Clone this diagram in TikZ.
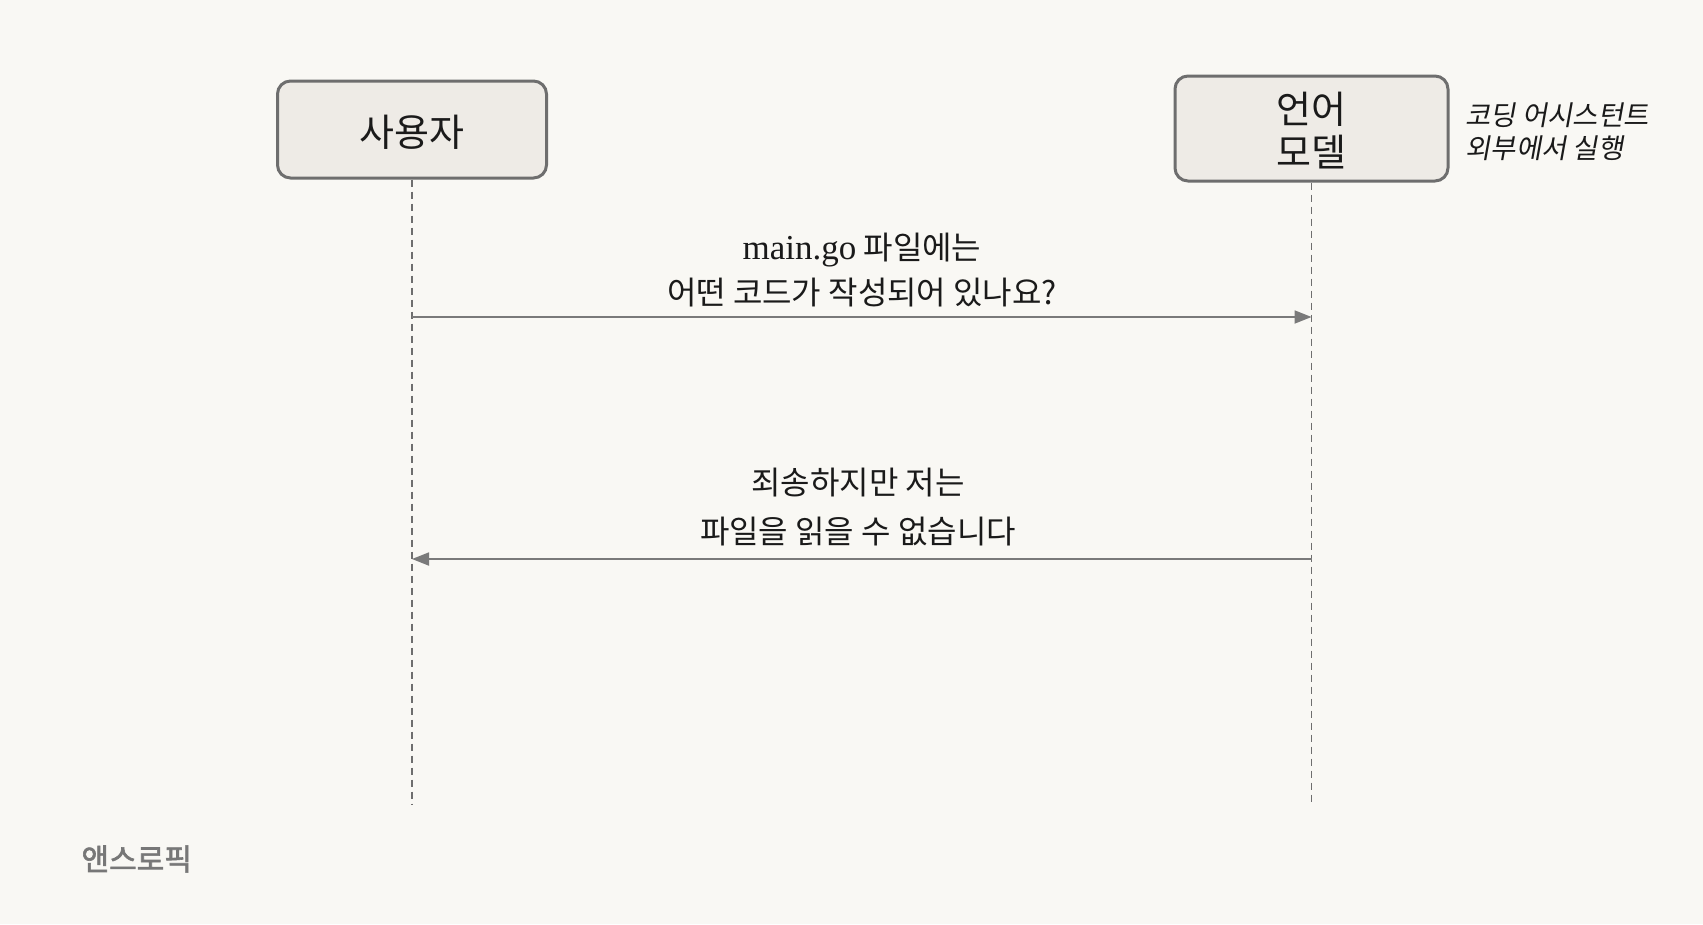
\documentclass[tikz,border=0pt]{standalone}
\usepackage{fontspec}
\usetikzlibrary{arrows.meta}
\newfontfamily\kr{Noto Sans CJK KR}
\newfontfamily\krit[FakeSlant=0.18]{Noto Sans CJK KR}
\newfontfamily\krbold[FakeBold=2]{Noto Sans CJK KR}
\newfontfamily\lat{Liberation Serif}
\definecolor{bg}{HTML}{F9F8F4}
\definecolor{boxfill}{HTML}{EEEBE6}
\definecolor{boxline}{HTML}{6E6E6E}
\definecolor{msgline}{HTML}{7A7A7A}
\definecolor{txt}{HTML}{1A1A1A}
\definecolor{logo}{HTML}{777777}
\tikzset{
  actor/.style={draw=boxline, line width=3pt, fill=boxfill, rounded corners=13pt,
    minimum width=#1, align=center, text=txt, font=\kr\fontsize{38}{44}\selectfont},
  lifeline/.style={draw=boxline, line width=1.4pt, dash pattern=on 7pt off 5pt},
  msg/.style={draw=msgline, line width=1.8pt, -{Triangle[length=17pt,width=13pt]}},
  msgtext/.style={align=center, text=txt, font=\kr\fontsize{32}{45}\selectfont},
}
\begin{document}
\begin{tikzpicture}[x=1pt,y=-1pt]
\fill[bg] (0,0) rectangle (1703,924);
\useasboundingbox (0,0) rectangle (1703,924);

\node[actor=269pt, minimum height=97pt] (user) at (412,129.5) {\raisebox{-3pt}[\height][\depth]{사용자}};
\node[actor=273pt, minimum height=105pt] (model) at (1311.5,128.5) {\raisebox{-2pt}[\height][\depth]{\shortstack{언어\\[5pt]모델}}};

\node[anchor=west, align=left, text=txt, font=\krit\fontsize{27.5}{33}\selectfont] (note) at (1462,132) {코딩 어시스턴트\\외부에서 실행};

\coordinate (uend) at (user.south |- 0,804);
\coordinate (mend) at (model.south |- 0,804);
\draw[lifeline] (user.south) -- (uend);
\draw[lifeline] (model.south) -- (mend);

\coordinate (u1) at (user.south |- 0,317);
\coordinate (m1) at (model.south |- 0,317);
\coordinate (u2) at (user.south |- 0,559);
\coordinate (m2) at (model.south |- 0,559);

\draw[msg] (u1) -- (m1);
\draw[msg] (m2) -- (u2);

\node[msgtext] (q) at (862,270) {{\lat\fontsize{35}{45}\selectfont main.go} 파일에는\\어떤 코드가 작성되어 있나요?};
\node[msgtext, font=\kr\fontsize{32}{49}\selectfont] (a) at (858,507) {죄송하지만 저는\\파일을 읽을 수 없습니다};

\node[anchor=west, text=logo, font=\krbold\fontsize{30}{32}\selectfont] (brand) at (78,859) {앤스로픽};
\end{tikzpicture}
\end{document}
